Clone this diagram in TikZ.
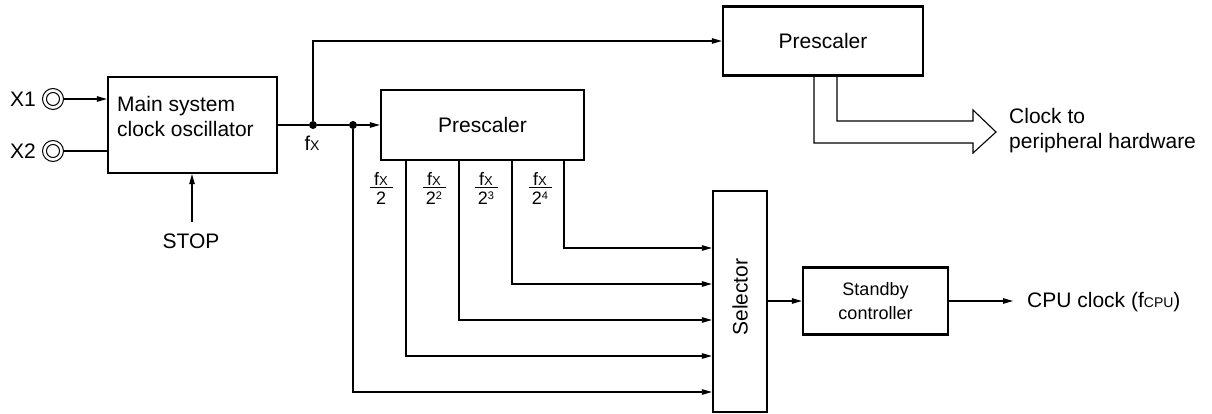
\documentclass[tikz,border=0pt]{standalone}
\usepackage{fontspec}
\setmainfont{Liberation Sans}
\usetikzlibrary{arrows.meta}
\newcommand\fxsmall[1]{f{\fontsize{#1}{#1}\selectfont X}}
\newcommand\pw[1]{2{\fontsize{11}{11}\selectfont\raisebox{5.5pt}{#1}}}
\begin{document}
\begin{tikzpicture}[x=1pt,y=-1pt,
  blk/.style={draw,line width=2.3pt,inner sep=0pt,font=\fontsize{21}{25}\selectfont},
  wire/.style={line width=1.1pt},
  arr/.style={wire,-{Stealth[length=10pt,width=5.5pt,inset=0pt]}},
  lbl/.style={inner sep=0pt,font=\fontsize{21}{25}\selectfont},
  frn/.style={inner sep=0pt,font=\fontsize{18}{18}\selectfont},
  dot/.style={circle,fill,inner sep=0pt,minimum size=8pt},
  term/.style={circle,draw,line width=1pt,inner sep=0pt}]
\useasboundingbox (0,0) rectangle (1212,414);

% blocks
\node[blk,minimum width=169pt,minimum height=96pt] (osc) at (192.5,125) {};
\node[lbl,align=left,anchor=west] (osct) at (117,116) {Main system\\clock oscillator};
\node[blk,minimum width=203pt,minimum height=70pt] (pre1) at (482.5,125) {Prescaler};
\node[blk,minimum width=200pt,minimum height=69pt] (pre2) at (823,41) {Prescaler};
\node[blk,minimum width=54pt,minimum height=221pt] (sel) at (740,301.5) {};
\node[lbl,rotate=90] (selt) at (740,297) {Selector};
\node[blk,minimum width=145pt,minimum height=67pt,align=center,font=\fontsize{18}{24}\selectfont] (sb) at (875.5,301) {Standby\\controller};

% terminals
\node[term,minimum size=21pt] (x1c) at (53,99) {};
\node[term,minimum size=13pt] (x1i) at (53,99) {};
\node[lbl] (x1) at (23,99) {X1};
\node[term,minimum size=21pt] (x2c) at (53,151) {};
\node[term,minimum size=13pt] (x2i) at (53,151) {};
\node[lbl] (x2) at (23,151) {X2};
\draw[arr] (x1c.east) -- (osc.west |- x1c);
\draw[wire] (x2c.east) -- (osc.west |- x2c);

% STOP
\node[lbl] (stop) at (191,241) {STOP};
\coordinate (stopc) at (192,222);
\draw[arr] (stopc) -- (osc.south -| stopc);

% fx junctions
\node[dot] (j1) at (313,125) {};
\node[dot] (j2) at (353,125) {};
\node[inner sep=0pt,font=\fontsize{20}{20}\selectfont] (fxl) at (312,143) {\fxsmall{14}};
\draw[wire] (osc.east) -- (j1) -- (j2);
\draw[arr] (j2) -- (pre1.west);
\draw[arr] (j1) |- (pre2.west);

% prescaler taps
\coordinate (k0) at (353,392);
\coordinate (k1) at (406,356);
\coordinate (k2) at (459,320);
\coordinate (k3) at (512,284);
\coordinate (k4) at (564,248);
\draw[arr] (j2) |- (sel.west |- k0);
\draw[arr] (pre1.south -| k1) |- (sel.west |- k1);
\draw[arr] (pre1.south -| k2) |- (sel.west |- k2);
\draw[arr] (pre1.south -| k3) |- (sel.west |- k3);
\draw[arr] (pre1.south -| k4) |- (sel.west |- k4);

% fractions
\foreach \i/\cx/\d in {1/381/2,2/434/\pw{2},3/486/\pw{3},4/540/\pw{4}}{
  \node[frn] (num\i) at (\cx,179) {\fxsmall{13}};
  \node[frn] (den\i) at (\cx,198) {\d};
  \draw[line width=1pt] (\cx-11.5,188) -- (\cx+11.5,188);
}

% peripheral hollow arrow
\coordinate (pa) at (814,143);
\coordinate (pb) at (837,121);
\draw[wire,line join=miter] (pre2.south -| pa) -- (pa) -- (973,143) -- (973,153) -- (996,132)
  -- (973,110) -- (973,121) -- (pb) -- (pre2.south -| pb);
\node[lbl,align=left,anchor=west] (perl) at (1009,131) {Clock to\\peripheral hardware};

% selector -> standby -> CPU
\draw[arr] (sel.east |- sb) -- (sb.west);
\coordinate (cpue) at (1013,301);
\draw[arr] (sb.east) -- (cpue);
\node[lbl,anchor=west] (cpu) at (1027,302) {CPU clock (f{\fontsize{14}{14}\selectfont CPU})};
\end{tikzpicture}
\end{document}
